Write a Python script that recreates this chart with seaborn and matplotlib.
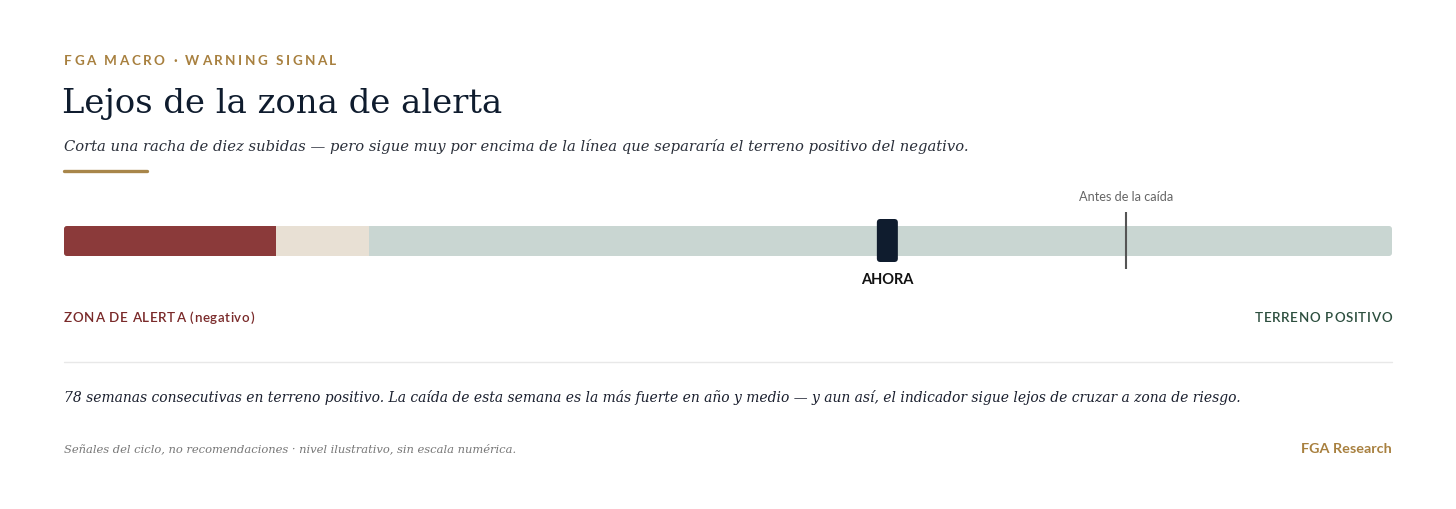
import matplotlib
matplotlib.use("Agg")
import matplotlib.pyplot as plt
import seaborn as sns
import pandas as pd
from matplotlib.patches import FancyBboxPatch

# ---------------- data ----------------
zone_names = ["Terreno positivo", "Transición", "Zona de alerta"]
zone_ends = [100, 23, 16]          # cumulative end of each zone on a 0-100 gauge
zone_colors = ["#c9d6d2", "#e8e0d4", "#8b3a3a"]
now_level = 62.0                    # "AHORA"
before_level = 80.0                 # "Antes de la caída"

kicker = "FGA MACRO · WARNING SIGNAL"
title = "Lejos de la zona de alerta"
subtitle = ("Corta una racha de diez subidas — pero sigue muy por encima de la línea "
            "que separaría el terreno positivo del negativo.")
left_label = "ZONA DE ALERTA (negativo)"
right_label = "TERRENO POSITIVO"
body = ("78 semanas consecutivas en terreno positivo. La caída de esta semana es la más "
        "fuerte en año y medio — y aun así, el indicador sigue lejos de cruzar a zona de riesgo.")
footer = "Señales del ciclo, no recomendaciones · nivel ilustrativo, sin escala numérica."
brand = "FGA Research"

# ---------------- style ----------------
sns.set_theme(style="white")
plt.rcParams["font.family"] = ["Lato", "DejaVu Sans"]

W, H = 1456, 510
fig = plt.figure(figsize=(W / 100, H / 100), dpi=100)
fig.patch.set_facecolor("white")
renderer = fig.canvas.get_renderer()

def fx(px):
    return px / W

def fy(py):
    return 1 - py / H

def spaced_text(x_px, y_px, s, spacing_px, align="left", **kw):
    """Draw text with letter spacing, char by char (x_px is left or right edge)."""
    widths = []
    for ch in s:
        if ch == " ":
            t2 = fig.text(0, 0, "a a", **kw)
            t3 = fig.text(0, 0, "aa", **kw)
            w = (t2.get_window_extent(renderer).width
                 - t3.get_window_extent(renderer).width)
            t2.remove(); t3.remove()
        else:
            t = fig.text(0, 0, ch, **kw)
            w = t.get_window_extent(renderer).width
            t.remove()
        widths.append(w)
    total = sum(widths) + spacing_px * (len(s) - 1)
    x = x_px if align == "left" else x_px - total
    for ch, w in zip(s, widths):
        if ch != " ":
            fig.text(fx(x), fy(y_px), ch, ha="left", va="center", **kw)
        x += w + spacing_px

GOLD = "#a8803f"
NAVY = "#0f1c2e"
SERIF = ["DejaVu Serif"]

# header texts
spaced_text(64, 61, kicker, 2.5, fontsize=9.7, fontweight="bold", color=GOLD)
fig.text(fx(62), fy(104), title, fontsize=24.4, family=SERIF, color=NAVY,
         va="center", ha="left")
fig.text(fx(64), fy(147), subtitle, fontsize=10.6, family=SERIF, style="italic",
         color="#2a2f3a", va="center", ha="left")
fig.add_artist(plt.Line2D([fx(64), fx(147)], [fy(172), fy(172)], color="#a8864a",
                          lw=2.4, transform=fig.transFigure))

# ---------------- gauge ----------------
L, R = 64, 1392
top, bot = 227, 257
ax = fig.add_axes([fx(L), fy(bot), (R - L) / W, (bot - top) / H])
for end, col, name in zip(zone_ends, zone_colors, zone_names):
    df = pd.DataFrame({"nivel": [end], "g": ["gauge"]})
    sns.barplot(data=df, x="nivel", y="g", orient="h", color=col, width=1.0,
                saturation=1, ax=ax, linewidth=0, zorder=1)
ax.set_xlim(0, 100)
ax.set_ylim(0.5, -0.5)
ax.axis("off")

px_x = (R - L) / 100.0
px_y = (bot - top)

def py2d(py):
    return (py - 242) / px_y

# rounded outer ends of the gauge
for p in ax.patches:
    p.set_clip_path(FancyBboxPatch((0, -0.5), 100, 1.0,
                                   boxstyle="round,pad=0,rounding_size=%f" % (3 / px_x),
                                   mutation_aspect=px_x / px_y,
                                   transform=ax.transData))

# marker
mw = 21 / px_x
my0, my1 = py2d(220), py2d(263)
marker = FancyBboxPatch((now_level - mw / 2, my0), mw, my1 - my0,
                        boxstyle="round,pad=0,rounding_size=%f" % (3.5 / px_x),
                        mutation_aspect=px_x / px_y,
                        facecolor=NAVY, edgecolor="none", zorder=5, clip_on=False)
ax.add_patch(marker)
ax.text(now_level, py2d(280), "AHORA", ha="center", va="center", fontsize=10.5,
        fontweight="bold", color="#111111", clip_on=False)

# previous level tick
ax.vlines(before_level, py2d(213), py2d(270), color="#555555", lw=1.5, zorder=4,
          clip_on=False)
ax.text(before_level, py2d(197), "Antes de la caída", ha="center", va="center",
        fontsize=9.2, color="#666666", clip_on=False)

# zone labels (letter-spaced)
spaced_text(L, 318, left_label, 0.65, fontsize=9.6, fontweight="semibold",
            color="#7a2a2a")
spaced_text(R, 318, right_label, 0.7, align="right", fontsize=9.6,
            fontweight="semibold", color="#2d4f3f")

# separator
fig.add_artist(plt.Line2D([fx(64), fx(1392)], [fy(363), fy(363)], color="#e8e8e8",
                          lw=1, transform=fig.transFigure))

fig.text(fx(64), fy(398), body, fontsize=10.0, family=SERIF, style="italic",
         color="#1a1f2e", va="center", ha="left")
fig.text(fx(64), fy(449), footer, fontsize=8.25, family=SERIF, style="italic",
         color="#777777", va="center", ha="left")
fig.text(fx(1392), fy(449), brand, fontsize=10.4, fontweight="bold", color=GOLD,
         va="center", ha="right")

fig.savefig("out.png", dpi=100, facecolor="white")
